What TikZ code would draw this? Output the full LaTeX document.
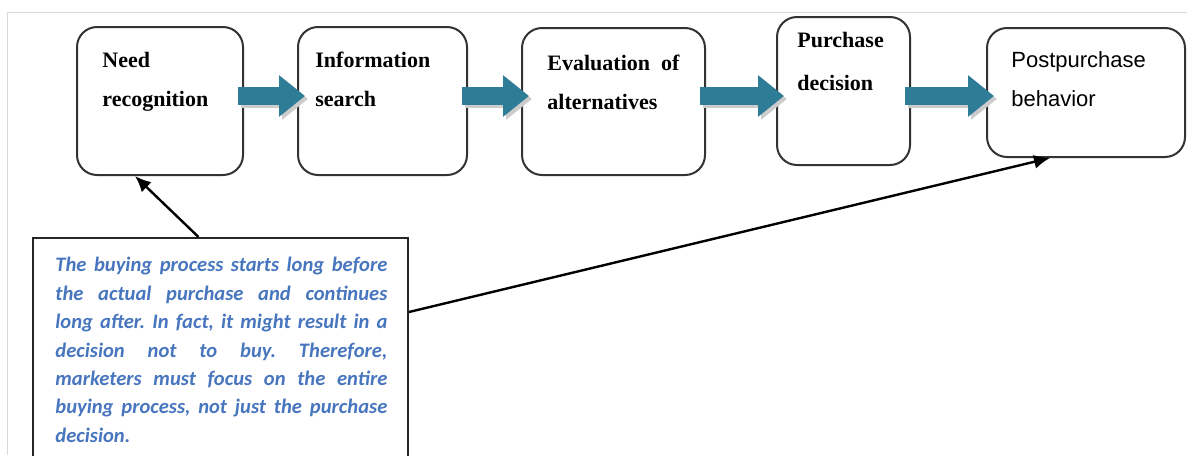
\documentclass[tikz,border=0pt]{standalone}
\usepackage{fontspec}
\setmainfont{Liberation Serif}
\newfontfamily\notefont{Carlito}
\newfontfamily\postfont{Liberation Sans}
\usetikzlibrary{arrows.meta,calc}

\definecolor{flowteal}{RGB}{47,124,150}
\definecolor{noteblue}{RGB}{72,118,190}

\begin{document}
\frenchspacing
\begin{tikzpicture}[x=0.5pt, y=-0.5pt,
    stage/.style={draw=black!80, line width=1pt, rounded corners=10pt, inner sep=0pt},
    stagetext/.style={anchor=north west, inner sep=0pt, align=left,
      font=\fontsize{11}{19.5}\selectfont\bfseries},
    flow/.style={line width=9pt, draw=flowteal, -{Triangle[width=20pt,length=13pt]}},
    flowshade/.style={line width=9pt, draw=black!20, -{Triangle[width=20pt,length=13pt]}},
    pointer/.style={line width=1.2pt, -{Latex[length=8pt,width=7pt]}}]

  \clip (0,0) rectangle (1187,455);

  % ---- faint page edge ----
  \draw[black!15, line width=0.5pt] (7,455) -- (7,12) -- (1187,12);

  % ---- the five stages ----
  \node[stage, minimum width=83pt,   minimum height=74pt]   (need)   at (160,101)    {};
  \node[stage, minimum width=84.5pt, minimum height=74pt]   (info)   at (382.5,101)  {};
  \node[stage, minimum width=91.5pt, minimum height=73.5pt] (eval)   at (613.5,101.5) {};
  \node[stage, minimum width=66.5pt, minimum height=74pt]   (decide) at (843.5,91)   {};
  \node[stage, minimum width=99pt,   minimum height=64.5pt] (post)   at (1086,92.5)  {};

  \node[stagetext] (need-txt) at ([xshift=13pt, yshift=-13pt]need.north west) {Need\\recognition};
  \node[stagetext] (info-txt) at ([xshift=9pt, yshift=-13pt]info.north west) {Information\\search};
  \node[stagetext, text width=66pt] (eval-txt) at ([xshift=13pt, yshift=-14pt]eval.north west)
    {Evaluation\hfill of\\alternatives};
  \node[stagetext, font=\fontsize{11}{21.5}\selectfont\bfseries] (decide-txt)
    at ([xshift=10.5pt, yshift=-8pt]decide.north west) {Purchase\\decision};
  \node[stagetext, font=\postfont\fontsize{11}{19.5}\selectfont] (post-txt)
    at ([xshift=12.5pt, yshift=-12pt]post.north west) {Postpurchase\\behavior};

  % ---- block arrows between the stages ----
  \coordinate (flowline) at (0,96);
  \foreach \a/\b in {need/info, info/eval, eval/decide, decide/post} {
    \draw[flowshade] ($(\a.east |- flowline)+(-1.5pt,-1.5pt)$) -- ($(\b.west |- flowline)+(5.5pt,-1.5pt)$);
    \draw[flow] ($(\a.east |- flowline)+(-3pt,0)$) -- ($(\b.west |- flowline)+(4pt,0)$);
  }

  % ---- note box at the bottom ----
  \node[draw=black!85, line width=1pt, minimum width=187.5pt, minimum height=118.5pt, inner sep=0pt]
    (note) at (220.5,356.5) {};
  \node[anchor=north west, inner sep=0pt, text width=166pt, align=justify, text=noteblue,
      font=\notefont\bfseries\itshape\fontsize{10.3}{14.2}\selectfont]
    (note-txt) at (55,257)
    {The buying process starts long before\linebreak
     the actual purchase and continues\linebreak
     long after. In fact, it might result in a\linebreak
     decision not to buy. Therefore,\linebreak
     marketers must focus on the entire\linebreak
     buying process, not just the purchase\linebreak
     decision.};

  % ---- pointers from the note ----
  \draw[pointer] ([xshift=-11pt]note.north) -- ([xshift=-12.5pt]need.south);
  \draw[pointer] ([yshift=-37.5pt]note.north east) -- ([xshift=-18pt]post.south);

\end{tikzpicture}
\end{document}
